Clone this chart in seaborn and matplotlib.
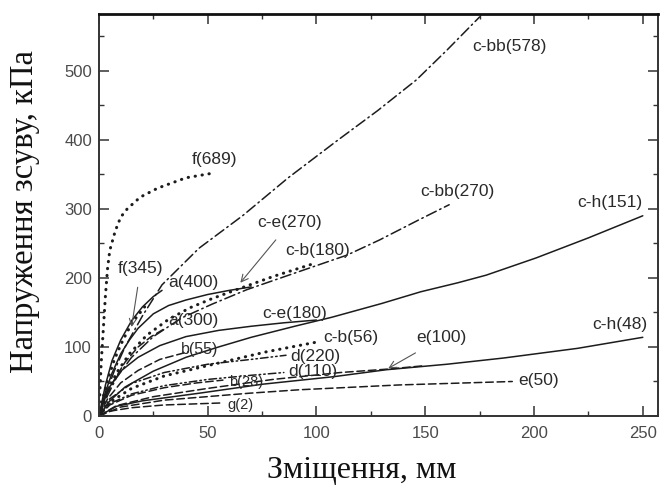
import matplotlib
matplotlib.use("Agg")
import matplotlib.pyplot as plt
from matplotlib.ticker import MultipleLocator
import seaborn as sns
import pandas as pd

# Shear stress vs. displacement curves (displacement in mm, stress in kPa)
cbb578_x = [0, 3, 7, 12, 20, 29, 46, 66, 87, 110, 128, 146, 160, 175]
cbb578_y = [0, 30, 65, 100, 145, 190, 243, 290, 345, 400, 442, 487, 530, 578]

cbb270_x = [0, 4, 8, 15, 25, 38, 52, 68, 90, 114, 129, 147, 161]
cbb270_y = [0, 30, 55, 85, 115, 142, 162, 183, 207, 233, 255, 284, 306]

f689_x = [0, 0.5, 1, 2, 3, 4, 5, 7.5, 10, 13, 19, 27, 40, 51]
f689_y = [0, 40, 75, 125, 175, 215, 240, 268, 288, 300, 317, 330, 345, 351]

f345_x = [0, 2, 4, 7, 10, 13, 16, 21]
f345_y = [0, 28, 52, 81, 103, 122, 138, 158]

a400_x = [0, 3, 6, 10, 15, 20, 25, 29]
a400_y = [0, 45, 80, 110, 138, 158, 173, 182]

ce270_x = [0, 3, 6, 10, 14, 18, 25, 32, 40, 50, 60, 70]
ce270_y = [0, 35, 62, 90, 110, 127, 148, 160, 168, 176, 182, 187]

a300_x = [0, 3, 7, 12, 18, 24, 31]
a300_y = [0, 28, 52, 78, 100, 115, 128]

cb180_x = [0, 4, 8, 14, 22, 32, 42, 52, 65, 80, 100]
cb180_y = [0, 35, 62, 90, 117, 140, 157, 170, 185, 202, 222]

ce180_x = [0, 4, 10, 18, 28, 40, 55, 70, 85, 100]
ce180_y = [0, 38, 65, 85, 102, 115, 124, 130, 135, 139]

ch151_x = [0, 5, 12, 25, 40, 55, 70, 90, 107, 130, 148, 165, 178, 201, 225, 250]
ch151_y = [0, 22, 42, 65, 85, 100, 114, 130, 143, 163, 180, 193, 204, 229, 258, 290]

b55_x = [0, 4, 10, 18, 28, 41]
b55_y = [0, 25, 48, 66, 82, 93]

cb56_x = [0, 5, 15, 30, 50, 77, 100]
cb56_y = [0, 20, 40, 58, 73, 93, 107]

d220_x = [0, 5, 15, 30, 50, 70, 86]
d220_y = [0, 25, 47, 63, 75, 82, 88]

d110_x = [0, 5, 15, 30, 50, 70, 85]
d110_y = [0, 18, 32, 44, 53, 59, 63]

b28_x = [0, 5, 15, 30, 45, 57]
b28_y = [0, 16, 30, 41, 48, 52]

ch48_x = [0, 8, 20, 46, 75, 108, 132, 160, 186, 220, 250]
ch48_y = [0, 14, 22, 33, 46, 57, 67, 75, 84, 98, 114]

e100_x = [0, 8, 25, 50, 80, 111, 133, 150]
e100_y = [0, 15, 28, 40, 53, 63, 68, 73]

e50_x = [0, 10, 30, 69, 92, 138, 190]
e50_y = [0, 13, 23, 33, 38, 45, 50]

g2_x = [0, 5, 15, 30, 57]
g2_y = [0, 7, 12, 16, 19]

x_ticks = [0, 50, 100, 150, 200, 250]
y_ticks = [0, 100, 200, 300, 400, 500]

sns.set_theme(style="ticks")
plt.rcParams["font.family"] = ["Liberation Sans", "DejaVu Sans"]

SOLID = "-"
DOTTED = (0, (0.1, 2.2))
DASHED = (0, (5, 2.5))
DASHDOT = (0, (7, 2.5, 1, 2.5))
DASHDOTDOT = (0, (5, 2, 1, 2, 1, 2))

series = [
    ("c-bb(578)", cbb578_x, cbb578_y, DASHDOT, 1.1),
    ("c-bb(270)", cbb270_x, cbb270_y, DASHDOT, 1.1),
    ("f(689)", f689_x, f689_y, DOTTED, 2.2),
    ("f(345)", f345_x, f345_y, DOTTED, 2.2),
    ("a(400)", a400_x, a400_y, SOLID, 1.1),
    ("c-e(270)", ce270_x, ce270_y, SOLID, 1.1),
    ("a(300)", a300_x, a300_y, DASHED, 1.1),
    ("c-b(180)", cb180_x, cb180_y, DOTTED, 2.2),
    ("c-e(180)", ce180_x, ce180_y, SOLID, 1.1),
    ("c-h(151)", ch151_x, ch151_y, SOLID, 1.1),
    ("b(55)", b55_x, b55_y, DASHED, 1.1),
    ("c-b(56)", cb56_x, cb56_y, DOTTED, 2.2),
    ("d(220)", d220_x, d220_y, DASHDOTDOT, 1.1),
    ("d(110)", d110_x, d110_y, DASHDOTDOT, 1.1),
    ("b(28)", b28_x, b28_y, DASHED, 1.1),
    ("c-h(48)", ch48_x, ch48_y, SOLID, 1.1),
    ("e(100)", e100_x, e100_y, DASHED, 1.1),
    ("e(50)", e50_x, e50_y, DASHED, 1.1),
    ("g(2)", g2_x, g2_y, DASHED, 1.1),
]

fig = plt.figure(figsize=(6.64, 4.88), dpi=100)
ax = fig.add_axes([0.149, 0.1475, 0.842, 0.8235])

line_color = "#1c1c1c"
for name, xs, ys, ls, lw in series:
    df = pd.DataFrame({"x": xs, "y": ys})
    sns.lineplot(data=df, x="x", y="y", ax=ax, color=line_color,
                 linestyle=ls, linewidth=lw, estimator=None, sort=False,
                 dash_capstyle="round", solid_capstyle="round")

ax.set_xlim(0, 257)
ax.set_ylim(0, 582)
ax.set_xticks(x_ticks)
ax.set_yticks(y_ticks)
ax.xaxis.set_minor_locator(MultipleLocator(25))
ax.yaxis.set_minor_locator(MultipleLocator(50))
ax.tick_params(which="both", direction="in", top=True, right=True,
               colors="#333333", labelcolor="#4a4a4a", labelsize=12)
ax.tick_params(which="major", length=7, width=1.1)
ax.tick_params(which="minor", length=3.5, width=1.0)
ax.tick_params(axis="x", pad=7)
ax.tick_params(axis="y", pad=5)

for side in ["left", "right", "bottom"]:
    ax.spines[side].set_color("#333333")
    ax.spines[side].set_linewidth(1.4)
ax.spines["top"].set_color("#111111")
ax.spines["top"].set_linewidth(2.0)

serif = ["Liberation Serif", "DejaVu Serif"]
ax.set_xlabel("Зміщення, мм", fontsize=23, family=serif, color="#111111")
ax.set_ylabel("Напруження зсуву, кПа", fontsize=23.5, family=serif, color="#111111")
ax.xaxis.set_label_coords(0.47, -0.10)
ax.yaxis.set_label_coords(-0.105, 0.51)

# Curve labels: (text, x, y, fontsize)
labels = [
    ("c-bb(578)", 171.5, 535, 12.5),
    ("c-bb(270)", 147.5, 325, 12.5),
    ("f(689)", 42.7, 371, 12.5),
    ("c-h(151)", 220, 309, 12.5),
    ("c-b(180)", 85.5, 240, 12.5),
    ("a(400)", 31.7, 193, 12.5),
    ("a(300)", 31.7, 139, 12.5),
    ("c-e(180)", 75, 149, 12.5),
    ("b(55)", 37.5, 96, 11.5),
    ("c-b(56)", 103, 113, 12.5),
    ("d(220)", 87.8, 85.5, 12.5),
    ("c-h(48)", 226.6, 132, 12.5),
    ("d(110)", 87, 65, 12.5),
    ("b(28)", 60, 49, 10.5),
    ("e(50)", 192.6, 52, 12.5),
    ("g(2)", 59, 16, 10.5),
]
for text, x, y, fs in labels:
    ax.text(x, y, text, fontsize=fs, color="#2a2a2a", ha="left", va="center")

# Labels pointing to their curves with arrows
arrow_labels = [
    ("f(345)", (15, 129), (8.7, 214)),
    ("c-e(270)", (65, 193), (73, 280)),
    ("e(100)", (133, 69), (146, 113)),
]
for text, tip, pos in arrow_labels:
    ax.annotate(text, xy=tip, xytext=pos, fontsize=12.5, color="#2a2a2a",
                ha="left", va="center",
                arrowprops=dict(arrowstyle="->", color="#555555", lw=0.8,
                                shrinkA=6, shrinkB=0))

fig.savefig("out.png", dpi=100)
